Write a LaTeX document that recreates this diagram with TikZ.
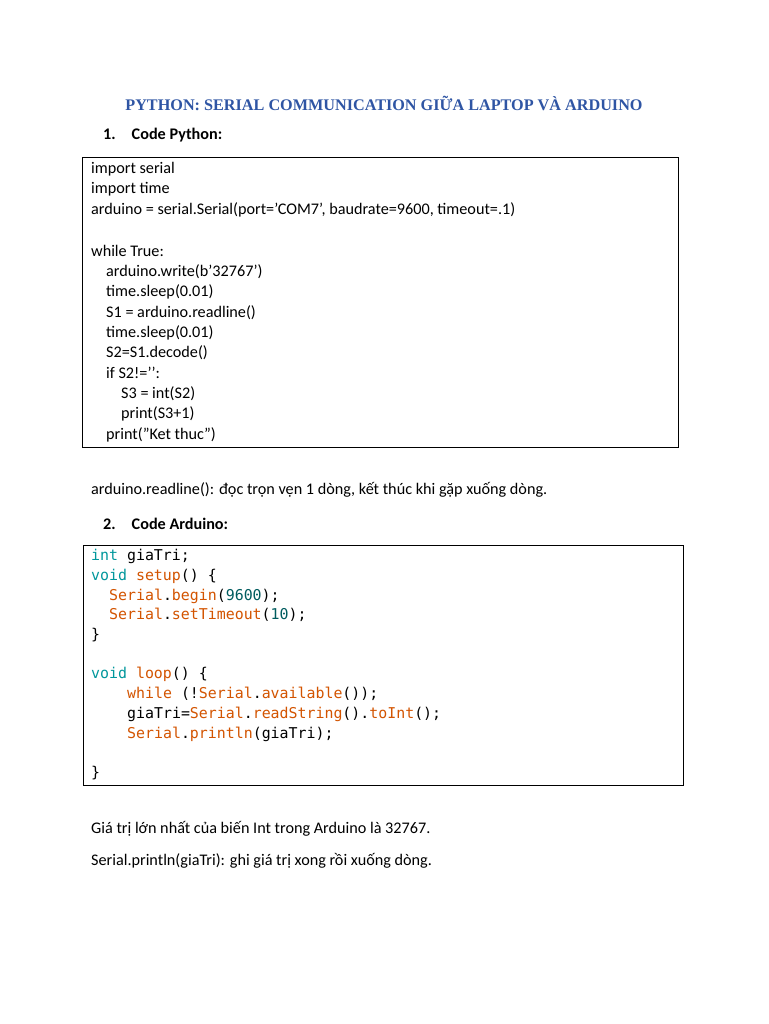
\documentclass[tikz,border=0pt]{standalone}
\usepackage{fontspec}
\setmainfont{Carlito}
\newfontfamily\titlefont{Liberation Serif}
\setmonofont{DejaVu Sans Mono}
\definecolor{titleblue}{HTML}{2F55A4}
\definecolor{kwteal}{HTML}{00979C}
\definecolor{fnorange}{HTML}{D35400}
\definecolor{numteal}{HTML}{005C5F}
\newcommand{\kw}[1]{\textcolor{kwteal}{#1}}
\newcommand{\fn}[1]{\textcolor{fnorange}{#1}}
\newcommand{\nm}[1]{\textcolor{numteal}{#1}}
\newcommand{\sq}{\char"0027\relax}
\newcommand{\dq}{\char"0022\relax}
\tikzset{
  txt/.style={anchor=west,inner sep=0pt,font=\fontsize{16.2}{18}\selectfont},
  code/.style={anchor=west,inner sep=0pt,font=\fontsize{14.9}{17}\ttfamily},
  codebox/.style={draw,line width=0.8pt}
}
\begin{document}
\begin{tikzpicture}[x=1pt,y=-1pt]
		\useasboundingbox[fill=white] (0,0) rectangle (768,1024);
		% heading
		\node[inner sep=0pt,font=\titlefont\bfseries\fontsize{16.2}{18}\selectfont,text=titleblue] (title) at (384,103) {PYTHON: SERIAL COMMUNICATION GIỮA LAPTOP VÀ ARDUINO};
		\node[txt,font=\bfseries\fontsize{16.2}{18}\selectfont] (h1) at (103,135) {1.\hspace{16pt}Code Python:};
		% python code
		\draw[codebox] (82,157) rectangle (678,447);
		\node[txt] (p1) at (91,169) {import serial};
		\node[txt] (p2) at (91,189) {import time};
		\node[txt] (p3) at (91,210) {arduino = serial.Serial(port=\sq COM7\sq, baudrate=9600, timeout=.1)};
		\node[txt] (p4) at (91,251) {while True:};
		\node[txt] (p5) at (106,272) {arduino.write(b\sq 32767\sq)};
		\node[txt] (p6) at (106,292) {time.sleep(0.01)};
		\node[txt] (p7) at (106,313) {S1 = arduino.readline()};
		\node[txt] (p8) at (106,333) {time.sleep(0.01)};
		\node[txt] (p9) at (106,353) {S2=S1.decode()};
		\node[txt] (p10) at (106,373) {if S2!=\sq\sq:};
		\node[txt] (p11) at (121,394) {S3 = int(S2)};
		\node[txt] (p12) at (121,414) {print(S3+1)};
		\node[txt] (p13) at (106,435) {print(\dq Ket thuc\dq)};
		\node[txt] (note1) at (91,490) {arduino.readline(): đọc trọn vẹn 1 dòng, kết thúc khi gặp xuống dòng.};
		\node[txt,font=\bfseries\fontsize{16.2}{18}\selectfont] (h2) at (103,524) {2.\hspace{16pt}Code Arduino:};
		% arduino code
		\draw[codebox] (83,545) rectangle (683,785);
		\node[code] (a1) at (91,556) {\kw{int} giaTri;};
		\node[code] (a2) at (91,576) {\kw{void} \fn{setup}() \{};
		\node[code] (a3) at (109,596) {\fn{Serial}.\fn{begin}(\nm{9600});};
		\node[code] (a4) at (109,615) {\fn{Serial}.\fn{setTimeout}(\nm{10});};
		\node[code] (a5) at (91,635) {\}};
		\node[code] (a6) at (91,674) {\kw{void} \fn{loop}() \{};
		\node[code] (a7) at (127,694) {\fn{while} (!\fn{Serial}.\fn{available}());};
		\node[code] (a8) at (127,714) {giaTri=\fn{Serial}.\fn{readString}().\fn{toInt}();};
		\node[code] (a9) at (127,734) {\fn{Serial}.\fn{println}(giaTri);};
		\node[code] (a10) at (91,773) {\}};
		\node[txt] (note2) at (91,829) {Giá trị lớn nhất của biến Int trong Arduino là 32767.};
		\node[txt] (note3) at (91,861) {Serial.println(giaTri): ghi giá trị xong rồi xuống dòng.};
\end{tikzpicture}
\end{document}
